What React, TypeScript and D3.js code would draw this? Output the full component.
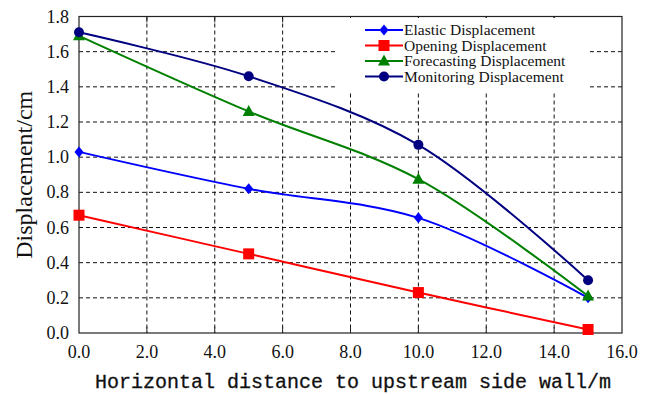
import { useEffect, useRef } from 'react';
import * as d3 from 'd3';

const distances = [0, 5, 10, 15];
const elastic = [1.03, 0.82, 0.655, 0.2];
const opening = [0.67, 0.45, 0.23, 0.02];
const forecasting = [1.69, 1.26, 0.875, 0.21];
const monitoring = [1.71, 1.46, 1.07, 0.3];

const seriesNames = ['Elastic Displacement', 'Opening Displacement', 'Forecasting Displacement', 'Monitoring Displacement'];
const seriesColors = ['#0000ff', '#ff0000', '#008000', '#000080'];
const seriesMarkers = ['diamond', 'square', 'triangle', 'circle'];

const xTicks = [0, 2, 4, 6, 8, 10, 12, 14, 16];
const yTicks = [0, 0.2, 0.4, 0.6, 0.8, 1.0, 1.2, 1.4, 1.6, 1.8];

export default function App() {
  const ref = useRef<SVGSVGElement | null>(null);
  useEffect(() => {
    const svg = d3.select(ref.current!);
    svg.selectAll('*').remove();
    const W = 646, H = 395;
    const margin = { top: 16.5, right: 24, bottom: 62, left: 79 };
    const iw = W - margin.left - margin.right;
    const ih = H - margin.top - margin.bottom;
    svg.attr('viewBox', `0 0 ${W} ${H}`);
    svg.append('rect').attr('width', W).attr('height', H).attr('fill', '#fff');
    const g = svg.append('g').attr('transform', `translate(${margin.left},${margin.top})`);

    const x = d3.scaleLinear().domain([0, 16]).range([0, iw]);
    const y = d3.scaleLinear().domain([0, 1.8]).range([ih, 0]);

    // dashed grid
    g.append('g').selectAll('line').data(xTicks.slice(1, -1)).enter().append('line')
      .attr('x1', (d) => x(d)).attr('x2', (d) => x(d)).attr('y1', 0).attr('y2', ih)
      .attr('stroke', '#111').attr('stroke-width', 1).attr('stroke-dasharray', '4,3');
    g.append('g').selectAll('line').data(yTicks.slice(1, -1)).enter().append('line')
      .attr('y1', (d) => y(d)).attr('y2', (d) => y(d)).attr('x1', 0).attr('x2', iw)
      .attr('stroke', '#111').attr('stroke-width', 1).attr('stroke-dasharray', '4,3');

    // legend backdrop hides the grid
    const lg = svg.append('g');
    lg.append('rect').attr('x', 336).attr('y', 18).attr('width', 252).attr('height', 74).attr('fill', '#fff');

    // inner ticks top / bottom
    g.append('g').selectAll('line').data(xTicks.slice(1, -1)).enter().append('line')
      .attr('x1', (d) => x(d)).attr('x2', (d) => x(d)).attr('y1', ih).attr('y2', ih - 6)
      .attr('stroke', '#222');
    g.append('g').selectAll('line').data(xTicks.slice(1, -1)).enter().append('line')
      .attr('x1', (d) => x(d)).attr('x2', (d) => x(d)).attr('y1', 0).attr('y2', 6)
      .attr('stroke', '#222');

    // frame
    g.append('rect').attr('x', 0).attr('y', 0).attr('width', iw).attr('height', ih)
      .attr('fill', 'none').attr('stroke', '#222').attr('stroke-width', 1.2);

    const fmt = d3.format('.1f');
    const serif = "'Liberation Serif', 'DejaVu Serif', serif";
    g.append('g').selectAll('text').data(xTicks).enter().append('text')
      .attr('x', (d) => x(d)).attr('y', ih + 25).attr('text-anchor', 'middle')
      .style('font-family', serif).attr('font-size', 18).attr('fill', '#111')
      .text((d) => fmt(d));
    g.append('g').selectAll('text').data(yTicks).enter().append('text')
      .attr('x', -10).attr('y', (d) => y(d) + 6).attr('text-anchor', 'end')
      .style('font-family', serif).attr('font-size', 18).attr('fill', '#111')
      .text((d) => fmt(d));

    svg.append('text').attr('transform', `translate(32,${margin.top + ih / 2}) rotate(-90)`)
      .attr('text-anchor', 'middle').style('font-family', serif).attr('font-size', 24).attr('fill', '#111')
      .text('Displacement/cm');
    svg.append('text').attr('x', 353).attr('y', 388).attr('text-anchor', 'middle')
      .style('font-family', "'Liberation Mono', monospace").attr('font-size', 20).attr('fill', '#111')
      .attr('stroke', '#111').attr('stroke-width', 0.3)
      .text('Horizontal distance to upstream side wall/m');

    const allSeries = [elastic, opening, forecasting, monitoring];
    const line = d3.line<number>().x((_, i) => x(distances[i])).y((d) => y(d)).curve(d3.curveCatmullRom.alpha(0.5));

    const drawMarker = (sel: d3.Selection<SVGGElement, unknown, null, undefined>, kind: string, cx: number, cy: number, color: string) => {
      if (kind === 'diamond') {
        sel.append('path').attr('d', `M${cx},${cy - 5.5}L${cx + 4.5},${cy}L${cx},${cy + 5.5}L${cx - 4.5},${cy}Z`).attr('fill', color);
      } else if (kind === 'square') {
        sel.append('rect').attr('x', cx - 5.5).attr('y', cy - 5.5).attr('width', 11).attr('height', 11).attr('fill', color);
      } else if (kind === 'triangle') {
        sel.append('path').attr('d', `M${cx},${cy - 6.5}L${cx + 6},${cy + 4.5}L${cx - 6},${cy + 4.5}Z`).attr('fill', color);
      } else {
        sel.append('circle').attr('cx', cx).attr('cy', cy).attr('r', 5).attr('fill', color);
      }
    };

    allSeries.forEach((vals, si) => {
      const sg = g.append('g');
      sg.append('path').attr('d', line(vals)).attr('fill', 'none')
        .attr('stroke', seriesColors[si]).attr('stroke-width', 2);
      vals.forEach((v, i) => drawMarker(sg, seriesMarkers[si], x(distances[i]), y(v), seriesColors[si]));
    });

    seriesNames.forEach((name, i) => {
      const ly = 30 + i * 15.5;
      lg.append('line').attr('x1', 365).attr('x2', 403).attr('y1', ly).attr('y2', ly)
        .attr('stroke', seriesColors[i]).attr('stroke-width', 2);
      drawMarker(lg, seriesMarkers[i], 384, ly, seriesColors[i]);
      lg.append('text').attr('x', 404).attr('y', ly + 5).style('font-family', serif)
        .attr('font-size', 15.5).attr('fill', '#111').text(name);
    });
  }, []);
  return <svg ref={ref} width={646} height={395} style={{ position: 'absolute', left: 0, top: 0 }} />;
}
